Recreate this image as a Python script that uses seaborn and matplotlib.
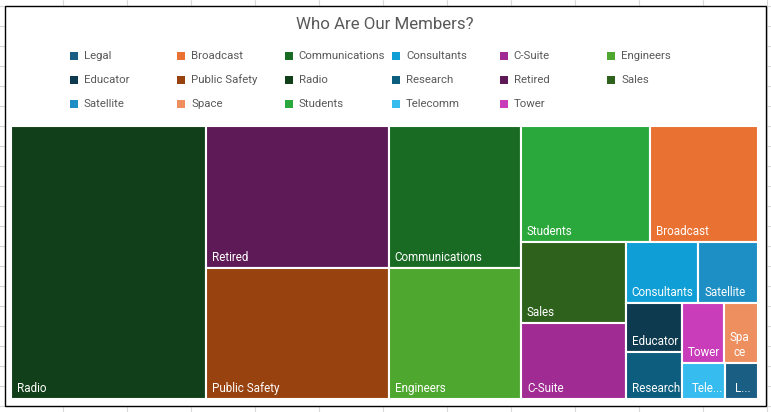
import matplotlib
matplotlib.use("Agg")
import numpy as np
import matplotlib.pyplot as plt
import seaborn as sns
from matplotlib.patches import Rectangle

# member counts per group, in the order of the legend
categories = ["Legal", "Broadcast", "Communications", "Consultants", "C-Suite", "Engineers",
              "Educator", "Public Safety", "Radio", "Research", "Retired", "Sales",
              "Satellite", "Space", "Students", "Telecomm", "Tower"]
members = [12, 127, 192, 45, 81, 176, 28, 243, 544, 27, 265, 87, 37, 21, 153, 16, 26]
colors = ["#1A5E83", "#E97132", "#196B24", "#0F9ED5", "#A02B93", "#4EA72E",
          "#0E3A4F", "#98420F", "#113F19", "#0C5D7E", "#5E1A57", "#2E621C",
          "#1E8FC4", "#EE8F5F", "#2AA83C", "#36BCEE", "#C93DBB"]
# how Excel prints the label when the box is too small
shown_labels = {"Space": "Spa\nce", "Telecomm": "Tele...", "Legal": "L..."}

FONT = "Roboto"
GREY = "#595959"


def worst(row, side):
    s = sum(row)
    return max(max(s * s / (side * side * r), side * side * r / (s * s)) for r in row)


def lay_row(row, x, y, w, h):
    s = sum(row)
    out = []
    if w >= h:
        cw = s / h
        yy = y
        for r in row:
            out.append((x, yy, cw, r / cw))
            yy += r / cw
        return out, (x + cw, y, w - cw, h)
    rh = s / w
    xx = x
    for r in row:
        out.append((xx, y, r / rh, rh))
        xx += r / rh
    return out, (x, y + rh, w, h - rh)


def squarify(areas, x, y, w, h):
    areas = list(areas)
    rects = []
    while areas:
        side = min(w, h)
        row = [areas.pop(0)]
        while areas and worst(row + [areas[0]], side) <= worst(row, side):
            row.append(areas.pop(0))
        r, (x, y, w, h) = lay_row(row, x, y, w, h)
        rects += r
    return rects


sns.set_theme(style="white")
plt.rcParams["font.family"] = [FONT, "DejaVu Sans"]

fig = plt.figure(figsize=(7.71, 4.12), dpi=100)

# spreadsheet behind the chart
bg = fig.add_axes([0, 0, 1, 1], zorder=-1)
bg.set_xlim(0, 771)
bg.set_ylim(412, 0)
bg.axis("off")
for gx in np.arange(62.5, 771, 64):
    bg.axvline(gx, color="#d9d9d9", lw=0.8)
for gy in np.arange(5.5, 412, 20):
    bg.axhline(gy, color="#d9d9d9", lw=0.8)
bg.add_patch(Rectangle((4.5, 5.5), 761, 400, facecolor="white", edgecolor="black", lw=1, zorder=3))

bg.text(385, 24, "Who Are Our Members?", ha="center", va="center", fontsize=12.2,
        color=GREY, zorder=4)

# legend, filled row by row like Excel does
for i, (name, c) in enumerate(zip(categories, colors)):
    col, row = i % 6, i // 6
    lx = 70 + col * 107.4
    ly = 56 + row * 24
    bg.add_patch(Rectangle((lx, ly - 4), 8, 8, facecolor=c, edgecolor="none", zorder=4))
    bg.text(lx + 14, ly, name, va="center", ha="left", fontsize=8.2, color=GREY, zorder=4)

# treemap
W, H = 747, 273
ax = fig.add_axes([11 / 771, 1 - 399 / 412, W / 771, H / 412])
ax.set_xlim(0, W)
ax.set_ylim(H, 0)
ax.axis("off")

order = np.argsort(members)[::-1]
vals = np.array(members, dtype=float)[order]
areas = vals / vals.sum() * W * H
rects = squarify(areas, 0, 0, W, H)

for idx, (x, y, w, h) in zip(order, rects):
    ax.add_patch(Rectangle((x, y), w, h, facecolor=colors[idx], edgecolor="white", lw=1.5))
    name = categories[idx]
    label = shown_labels.get(name, name)
    pad = 10 if label.endswith("...") else 6
    ax.text(x + pad, y + h - 4, label, color="white", fontsize=8.4, ha="left", va="bottom",
            multialignment="center")

fig.savefig("out.png", dpi=100)
